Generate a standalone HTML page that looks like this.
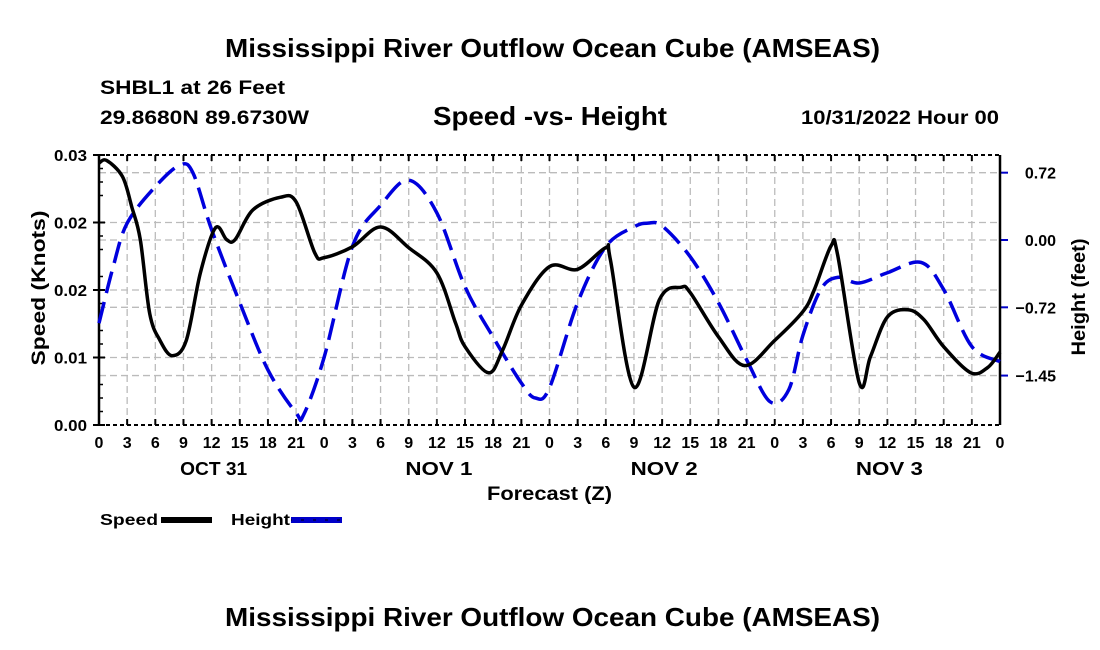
<!DOCTYPE html>
<html><head><meta charset="utf-8"><style>
body{margin:0;background:#fff}
svg{display:block;font-family:"Liberation Sans",sans-serif;font-weight:bold}
</style></head><body>
<svg id="c" width="1100" height="650" viewBox="0 0 1100 650">
<text x="225" y="57" font-size="26" textLength="655" lengthAdjust="spacingAndGlyphs">Mississippi River Outflow Ocean Cube (AMSEAS)</text>
<text x="100" y="94" font-size="19" textLength="185" lengthAdjust="spacingAndGlyphs">SHBL1 at 26 Feet</text>
<text x="100" y="124" font-size="19" textLength="209" lengthAdjust="spacingAndGlyphs">29.8680N  89.6730W</text>
<text x="433" y="125" font-size="26" textLength="234" lengthAdjust="spacingAndGlyphs">Speed -vs- Height</text>
<text x="801" y="124" font-size="19" textLength="198" lengthAdjust="spacingAndGlyphs">10/31/2022 Hour 00</text>
<g id="grid"></g>
<g id="axes"></g>
<g id="series"></g>
<text x="487" y="500" font-size="19" textLength="125" lengthAdjust="spacingAndGlyphs">Forecast (Z)</text>
<text transform="translate(45,288) rotate(-90)" font-size="19" text-anchor="middle" textLength="155" lengthAdjust="spacingAndGlyphs">Speed (Knots)</text>
<text transform="translate(1085,297) rotate(-90)" font-size="19" text-anchor="middle" textLength="117" lengthAdjust="spacingAndGlyphs">Height (feet)</text>
<g>
<text x="100" y="525" font-size="16" textLength="58" lengthAdjust="spacingAndGlyphs">Speed</text>
<rect x="161" y="517" width="51" height="6" fill="#000"/>
<text x="231" y="525" font-size="16" textLength="59" lengthAdjust="spacingAndGlyphs">Height</text>
<rect x="291" y="517" width="51" height="6" fill="#0000c8"/>
<line x1="291" y1="520" x2="342" y2="520" stroke="#000" stroke-width="1" stroke-dasharray="3 9" stroke-dashoffset="-10"/>
</g>
<text x="225" y="626" font-size="26" textLength="655" lengthAdjust="spacingAndGlyphs">Mississippi River Outflow Ocean Cube (AMSEAS)</text>
</svg>
<script>
const speedHours=[0,0.8,2.5,3.5,4.4,5.4,6.5,7.8,9.3,10.8,12.4,13.6,14.5,16.4,19.3,21,23,24,27,30,33,36,38,39,41.5,43,45,48,51,54,54.5,57,59.7,62,63,66,68.8,72,75,76.2,78,78.7,81,82.2,84,86.2,87.9,90,92.9,94.7,96];
const speedValues=[0.0291,0.0294,0.0276,0.0242,0.0206,0.0124,0.0094,0.0077,0.0094,0.0169,0.0219,0.0206,0.0206,0.0239,0.0253,0.0248,0.0191,0.0186,0.0198,0.0220,0.0197,0.0169,0.0113,0.0087,0.0058,0.0083,0.0133,0.0176,0.0173,0.0197,0.0183,0.0042,0.0139,0.0153,0.0147,0.0098,0.0066,0.0094,0.0126,0.0150,0.0199,0.0189,0.0047,0.0076,0.0120,0.0128,0.0117,0.0087,0.0058,0.0064,0.0081];
const heightHours=[0,1.5,3,6,8.6,10,12,15,18,21,21.8,24,27,30,33,36,39,42,45,46.5,48,51,54,57,58.5,60,63,66,69,71.5,73.5,75,76.9,78.7,81,84,87.6,90,93,96];
const heightValues=[-0.89,-0.29,0.18,0.57,0.80,0.72,0.11,-0.67,-1.39,-1.85,-1.87,-1.25,-0.07,0.37,0.64,0.29,-0.50,-1.04,-1.53,-1.69,-1.58,-0.67,-0.07,0.14,0.18,0.15,-0.18,-0.67,-1.28,-1.73,-1.60,-1.02,-0.53,-0.40,-0.46,-0.35,-0.24,-0.53,-1.14,-1.30];
const speedTicks=[0,0.0075,0.015,0.0225,0.03];
const speedTickLabels=["0.00","0.01","0.02","0.02","0.03"];
const heightTicks=[0.72,0,-0.72,-1.45];
const heightTickLabels=["0.72","0.00","\u22120.72","\u22121.45"];
const xTickHours=[0,3,6,9,12,15,18,21,24,27,30,33,36,39,42,45,48,51,54,57,60,63,66,69,72,75,78,81,84,87,90,93,96];
const dayLabels=["OCT 31","NOV 1","NOV 2","NOV 3"];

const L=99,R=1000,T=155,B=425;
const x=h=>L+(h/96)*(R-L);
const ys=v=>B-(v/0.03)*(B-T);
const yh=v=>240-v*93.5;
const NS="http://www.w3.org/2000/svg";
function mk(tag,attrs,parent){const e=document.createElementNS(NS,tag);for(const k in attrs)e.setAttribute(k,attrs[k]);parent.appendChild(e);return e;}
const grid=document.getElementById('grid'),axes=document.getElementById('axes'),series=document.getElementById('series');
xTickHours.forEach((h,i)=>{
  if(i>0&&i<xTickHours.length-1){const g=mk('line',{x1:x(h),x2:x(h),y1:T,y2:B,stroke:'#bbb','stroke-width':1.3,'stroke-dasharray':'7 4'},grid);
  
  }
  mk('line',{x1:x(h),x2:x(h),y1:B,y2:B-6,stroke:'#000','stroke-width':2},axes);
  mk('line',{x1:x(h),x2:x(h),y1:T,y2:T+6,stroke:'#000','stroke-width':2},axes);
  const t=mk('text',{x:x(h),y:B+23,'font-size':16,'text-anchor':'middle'},axes);
  t.textContent=String(h%24);
  
  
});
dayLabels.forEach((d,i)=>{
  const t=mk('text',{x:x(i*24+12)+2,y:B+50,'font-size':18,'text-anchor':'middle',textLength:67,lengthAdjust:'spacingAndGlyphs'},axes);
  t.textContent=d;
  
  
});
speedTicks.forEach((v,i)=>{
  if(i>0&&i<speedTicks.length-1){const g=mk('line',{x1:L,x2:R,y1:ys(v),y2:ys(v),stroke:'#bbb','stroke-width':1.3,'stroke-dasharray':'7 4'},grid);
  
  }
  mk('line',{x1:L-6,x2:L+6,y1:ys(v),y2:ys(v),stroke:'#000','stroke-width':2},axes);
  const t=mk('text',{x:L-12,y:ys(v)+6,'font-size':16,'text-anchor':'end',textLength:33,lengthAdjust:'spacingAndGlyphs'},axes);
  t.textContent=speedTickLabels[i];
  
  
});
for(let k=1;k<20;k++){if(k%4)mk('line',{x1:L,x2:L+4,y1:ys(k*0.0015),y2:ys(k*0.0015),stroke:'#000','stroke-width':1.5},axes);}
heightTicks.forEach((v,i)=>{
  const g=mk('line',{x1:L,x2:R,y1:yh(v),y2:yh(v),stroke:'#bbb','stroke-width':1.3,'stroke-dasharray':'7 4'},grid);
  
  
  mk('line',{x1:R,x2:R+8,y1:yh(v),y2:yh(v),stroke:'#0000c8','stroke-width':2},axes);
  const t=mk('text',{x:1056,y:yh(v)+6,'font-size':16,'text-anchor':'end'},axes);
  t.textContent=heightTickLabels[i];
  
  
});
mk('line',{x1:L,x2:R,y1:T,y2:T,stroke:'#000','stroke-width':2,'stroke-dasharray':'4 3'},axes);
mk('line',{x1:L,x2:R,y1:B,y2:B,stroke:'#000','stroke-width':2,'stroke-dasharray':'4 3'},axes);
mk('line',{x1:L,x2:L,y1:T,y2:B,stroke:'#000','stroke-width':2.5},axes);
mk('line',{x1:R,x2:R,y1:T,y2:B,stroke:'#000','stroke-width':2.5},axes);
function path(hs,vs,fy){
  const p=hs.map((h,i)=>[x(h),fy(vs[i])]);
  let d='M'+p[0][0]+','+p[0][1];
  for(let i=0;i<p.length-1;i++){
    const p0=p[Math.max(0,i-1)],p1=p[i],p2=p[i+1],p3=p[Math.min(p.length-1,i+2)];
    const c1=[p1[0]+(p2[0]-p0[0])/6,p1[1]+(p2[1]-p0[1])/6],c2=[p2[0]-(p3[0]-p1[0])/6,p2[1]-(p3[1]-p1[1])/6];
    d+=' C'+c1+' '+c2+' '+p2;
  }
  return d;
}
const hp=mk('path',{d:path(heightHours,heightValues,yh),fill:'none',stroke:'#0000dd','stroke-width':3.5,'stroke-dasharray':'22 9'},series);


const sp=mk('path',{d:path(speedHours,speedValues,ys),fill:'none',stroke:'#000','stroke-width':3.5},series);


</script>
</body></html>
